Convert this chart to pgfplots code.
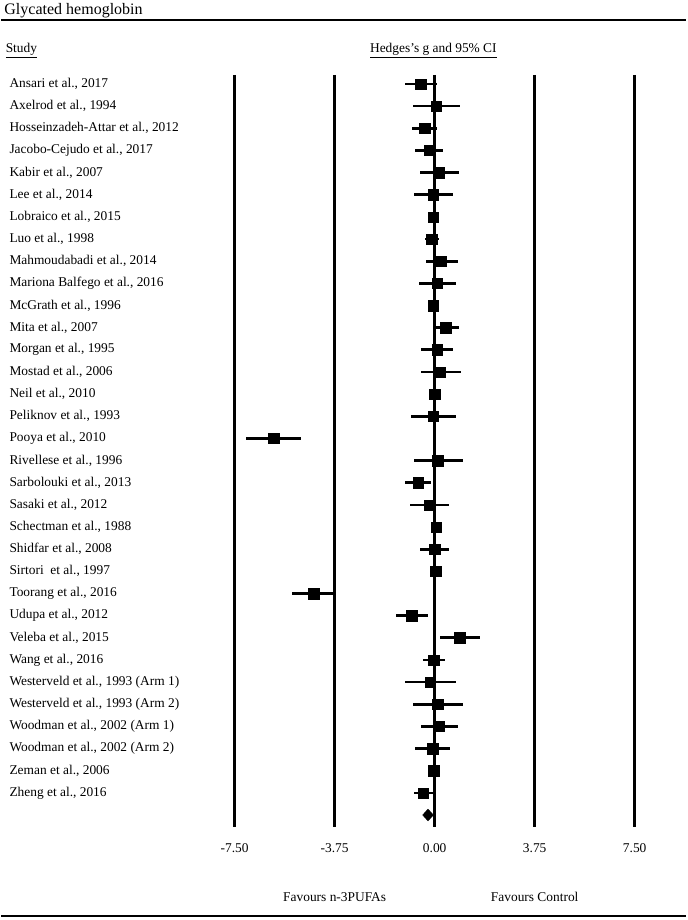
\documentclass[border=0pt]{standalone}
\usepackage{fontspec}
\setmainfont{Liberation Serif}
\usepackage{pgfplots}
\usepackage{pgfplotstable}
\pgfplotsset{compat=1.18}

% row  g  lower  upper  (Hedges's g and 95% CI)
\pgfplotstableread{
row g lo hi
1 -0.52 -1.12 0.10
2 0.06 -0.81 0.95
3 -0.37 -0.85 0.10
4 -0.21 -0.74 0.33
5 0.16 -0.56 0.93
6 -0.06 -0.79 0.68
7 -0.06 -0.20 0.08
8 -0.11 -0.35 0.15
9 0.25 -0.31 0.88
10 0.09 -0.60 0.79
11 -0.06 -0.18 0.06
12 0.41 -0.06 0.91
13 0.09 -0.51 0.70
14 0.21 -0.51 0.98
15 0.00 -0.15 0.15
16 -0.06 -0.90 0.79
17 -6.04 -7.07 -5.01
18 0.11 -0.79 1.06
19 -0.62 -1.11 -0.15
20 -0.20 -0.92 0.54
21 0.05 -0.12 0.22
22 0.00 -0.55 0.54
23 0.03 -0.10 0.16
24 -4.54 -5.35 -3.75
25 -0.86 -1.45 -0.25
26 0.94 0.20 1.70
27 -0.04 -0.44 0.38
28 -0.17 -1.10 0.79
29 0.11 -0.80 1.06
30 0.16 -0.50 0.88
31 -0.07 -0.74 0.59
32 -0.04 -0.15 0.07
33 -0.44 -0.79 -0.04
}\studies

\begin{document}
\fontsize{13.4bp}{15bp}\selectfont
\begin{tikzpicture}[lbl/.style={font=\fontsize{13.4bp}{15bp}\selectfont, inner sep=0pt}]
\begin{axis}[
    x=26.667bp, y=22.15bp, y dir=reverse,
    xmin=-16.25, xmax=9.44,
    ymin=-2.79, ymax=38.74,
    hide axis, clip=false,
]
\path (rel axis cs:0,0) rectangle (rel axis cs:1,1);
% rules top and bottom
\draw[line width=1.8bp] (axis cs:-16.25,-1.887) -- (axis cs:9.44,-1.887);
\draw[line width=2.6bp] (axis cs:-16.25,38.56) -- (axis cs:9.44,38.56);
% vertical reference lines
\draw[line width=2.6bp] (axis cs:-7.5,0.59) -- (axis cs:-7.5,34.54);
\draw[line width=2.6bp] (axis cs:-3.75,0.59) -- (axis cs:-3.75,34.54);
\draw[line width=2.6bp] (axis cs:0,0.59) -- (axis cs:0,34.54);
\draw[line width=2.6bp] (axis cs:3.75,0.59) -- (axis cs:3.75,34.54);
\draw[line width=2.6bp] (axis cs:7.5,0.59) -- (axis cs:7.5,34.54);

\addplot[only marks, black, line width=2.7bp,
    mark=square*, mark size=5.2bp, mark options={line width=0.3bp},
    error bars/.cd, x dir=both, x explicit, error mark=none,
    error bar style={line width=2.7bp, black}]
    table[x=g, y=row, x error minus expr=\thisrow{g}-\thisrow{lo},
          x error plus expr=\thisrow{hi}-\thisrow{g}] {\studies};
% summary
\addplot[only marks, mark=diamond*, mark size=6bp, black,
    mark options={xscale=1.2, line width=0.3bp}] coordinates {(-0.25,34)};

% headings
\node[lbl, anchor=west, font=\fontsize{16bp}{18bp}\selectfont] at (axis cs:-16.14,-2.33) {Glycated hemoglobin};
\node[lbl, anchor=west] at (axis cs:-16.09,-0.52) {\underline{Study}};
\node[lbl] at (axis cs:-0.05,-0.52) {\underline{Hedges's g and 95\% CI}};

% study names
\node[lbl, anchor=west] at (axis cs:-15.95,1) {Ansari et al., 2017};
\node[lbl, anchor=west] at (axis cs:-15.95,2) {Axelrod et al., 1994};
\node[lbl, anchor=west] at (axis cs:-15.95,3) {Hosseinzadeh-Attar et al., 2012};
\node[lbl, anchor=west] at (axis cs:-15.95,4) {Jacobo-Cejudo et al., 2017};
\node[lbl, anchor=west] at (axis cs:-15.95,5) {Kabir et al., 2007};
\node[lbl, anchor=west] at (axis cs:-15.95,6) {Lee et al., 2014};
\node[lbl, anchor=west] at (axis cs:-15.95,7) {Lobraico et al., 2015};
\node[lbl, anchor=west] at (axis cs:-15.95,8) {Luo et al., 1998};
\node[lbl, anchor=west] at (axis cs:-15.95,9) {Mahmoudabadi et al., 2014};
\node[lbl, anchor=west] at (axis cs:-15.95,10) {Mariona Balfego et al., 2016};
\node[lbl, anchor=west] at (axis cs:-15.95,11) {McGrath et al., 1996};
\node[lbl, anchor=west] at (axis cs:-15.95,12) {Mita et al., 2007};
\node[lbl, anchor=west] at (axis cs:-15.95,13) {Morgan et al., 1995};
\node[lbl, anchor=west] at (axis cs:-15.95,14) {Mostad et al., 2006};
\node[lbl, anchor=west] at (axis cs:-15.95,15) {Neil et al., 2010};
\node[lbl, anchor=west] at (axis cs:-15.95,16) {Peliknov et al., 1993};
\node[lbl, anchor=west] at (axis cs:-15.95,17) {Pooya et al., 2010};
\node[lbl, anchor=west] at (axis cs:-15.95,18) {Rivellese et al., 1996};
\node[lbl, anchor=west] at (axis cs:-15.95,19) {Sarbolouki et al., 2013};
\node[lbl, anchor=west] at (axis cs:-15.95,20) {Sasaki et al., 2012};
\node[lbl, anchor=west] at (axis cs:-15.95,21) {Schectman et al., 1988};
\node[lbl, anchor=west] at (axis cs:-15.95,22) {Shidfar et al., 2008};
\node[lbl, anchor=west] at (axis cs:-15.95,23) {Sirtori\ \ et al., 1997};
\node[lbl, anchor=west] at (axis cs:-15.95,24) {Toorang et al., 2016};
\node[lbl, anchor=west] at (axis cs:-15.95,25) {Udupa et al., 2012};
\node[lbl, anchor=west] at (axis cs:-15.95,26) {Veleba et al., 2015};
\node[lbl, anchor=west] at (axis cs:-15.95,27) {Wang et al., 2016};
\node[lbl, anchor=west] at (axis cs:-15.95,28) {Westerveld et al., 1993 (Arm 1)};
\node[lbl, anchor=west] at (axis cs:-15.95,29) {Westerveld et al., 1993 (Arm 2)};
\node[lbl, anchor=west] at (axis cs:-15.95,30) {Woodman et al., 2002 (Arm 1)};
\node[lbl, anchor=west] at (axis cs:-15.95,31) {Woodman et al., 2002 (Arm 2)};
\node[lbl, anchor=west] at (axis cs:-15.95,32) {Zeman et al., 2006};
\node[lbl, anchor=west] at (axis cs:-15.95,33) {Zheng et al., 2016};

% scale labels
\node[lbl] at (axis cs:-7.5,35.5) {-7.50};
\node[lbl] at (axis cs:-3.75,35.5) {-3.75};
\node[lbl] at (axis cs:0,35.5) {0.00};
\node[lbl] at (axis cs:3.75,35.5) {3.75};
\node[lbl] at (axis cs:7.5,35.5) {7.50};
\node[lbl] at (axis cs:-3.75,37.7) {Favours n-3PUFAs};
\node[lbl] at (axis cs:3.75,37.7) {Favours Control};
\end{axis}
\end{tikzpicture}
\end{document}
